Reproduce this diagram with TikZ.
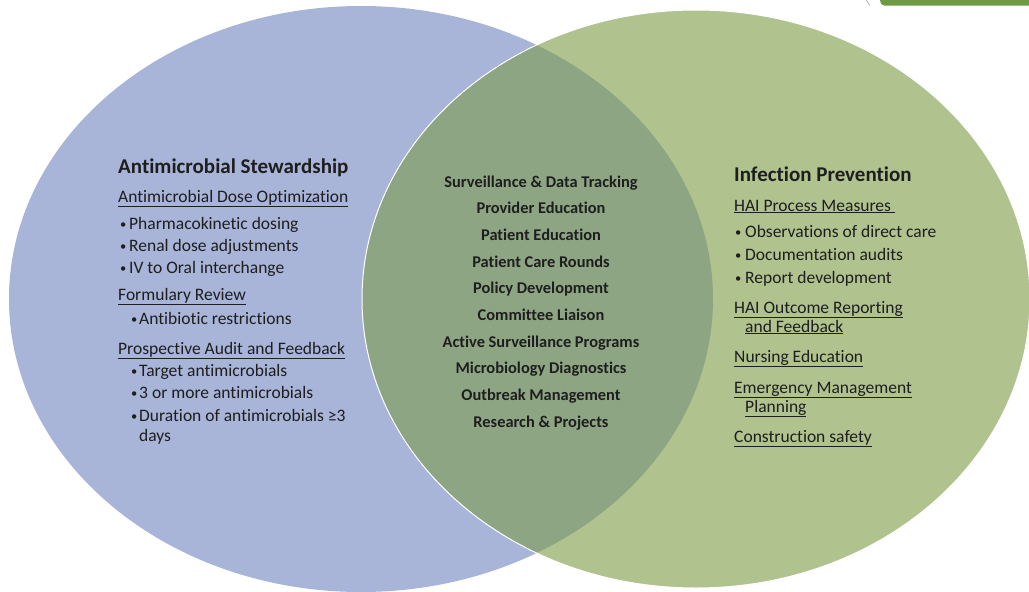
\documentclass[tikz,border=0pt]{standalone}
\usepackage{fontspec}
\setmainfont{Carlito}[Ligatures={NoCommon}]
\definecolor{amsblue}{HTML}{A8B4D8}
\definecolor{ipgreen}{HTML}{B0C28E}
\definecolor{ovgreen}{HTML}{8DA583}
\definecolor{bargreen}{HTML}{6F9A45}
\definecolor{txtdark}{HTML}{1E1E1E}
\newcommand\smbul{\raisebox{1pt}{\fontsize{12.5}{12}\selectfont\textbullet}}
\newcommand\lbul{\makebox[9pt][l]{\smbul}}
\newcommand\rbul{\makebox[10pt][l]{\smbul}}
\newcommand\kbul{\makebox[8pt][l]{\smbul}}
\begin{document}
\begin{tikzpicture}[x=1pt,y=-1pt,
  txt/.style={anchor=base west, inner sep=0pt, text=txtdark, font=\fontsize{17.5}{20}\selectfont},
  ttl/.style={txt, font=\fontsize{21}{24}\bfseries\selectfont},
  mid/.style={anchor=base, inner sep=0pt, text=txtdark, font=\fontsize{16.4}{19}\bfseries\selectfont}]
\useasboundingbox (0,0) rectangle (1029,592);
% circles
\fill[amsblue] (361,299) ellipse [x radius=352, y radius=293];
\fill[ipgreen] (696,299) ellipse [x radius=334, y radius=289];
\begin{scope}
  \clip (361,299) ellipse [x radius=352, y radius=293];
  \fill[ovgreen] (696,299) ellipse [x radius=334, y radius=289];
\end{scope}
\draw[white, line width=1pt] (696,299) ellipse [x radius=334, y radius=289];
% top-right fragment
\fill[bargreen] (880,0) -- (1029,0) -- (1029,5.5) -- (884,5.5) to[out=180,in=-90] (880,0) -- cycle;
\draw[black!35, line width=0.6pt] (866,0) .. controls (867.5,2.5) .. (870,5.5);
% left
\node[ttl] (asT) at (118,173) {Antimicrobial Stewardship};
\node[txt] (as1) at (118,202) {\underline{Antimicrobial Dose Optimization}};
\node[txt] (as1a) at (120,229) {\lbul Pharmacokinetic dosing};
\node[txt] (as1b) at (120,251) {\lbul Renal dose adjustments};
\node[txt] (as1c) at (120,273) {\lbul IV to Oral interchange};
\node[txt] (as2) at (118,300) {\underline{Formulary Review}};
\node[txt] (as2a) at (131,324) {\kbul Antibiotic restrictions};
\node[txt] (as3) at (118,354) {\underline{Prospective Audit and Feedback}};
\node[txt] (as3a) at (131,376) {\kbul Target antimicrobials};
\node[txt] (as3b) at (131,398) {\kbul 3 or more antimicrobials};
\node[txt] (as3c) at (131,421) {\kbul Duration of antimicrobials ≥3};
\node[txt] (as3d) at (139,441) {days};
% middle
\node[mid] (m1) at (541,187) {Surveillance \& Data Tracking};
\node[mid] (m2) at (541,213.7) {Provider Education};
\node[mid] (m3) at (541,240.4) {Patient Education};
\node[mid] (m4) at (541,267.1) {Patient Care Rounds};
\node[mid] (m5) at (541,293.8) {Policy Development};
\node[mid] (m6) at (541,320.5) {Committee Liaison};
\node[mid] (m7) at (541,347.2) {Active Surveillance Programs};
\node[mid] (m8) at (541,373.9) {Microbiology Diagnostics};
\node[mid] (m9) at (541,400.6) {Outbreak Management};
\node[mid] (m10) at (541,427.3) {Research \& Projects};
% right
\node[ttl] (ipT) at (734,181) {Infection Prevention};
\node[txt] (ip1) at (734,211) {\underline{HAI Process Measures\ }};
\node[txt] (ip1a) at (735,237) {\rbul Observations of direct care};
\node[txt] (ip1b) at (735,260) {\rbul Documentation audits};
\node[txt] (ip1c) at (735,283) {\rbul Report development};
\node[txt] (ip2) at (734,313) {\underline{HAI Outcome Reporting}};
\node[txt] (ip2b) at (745,332) {\underline{and Feedback}};
\node[txt] (ip3) at (734,362) {\underline{Nursing Education}};
\node[txt] (ip4) at (734,393) {\underline{Emergency Management}};
\node[txt] (ip4b) at (745,412) {\underline{Planning}};
\node[txt] (ip5) at (734,442) {\underline{Construction safety}};
\end{tikzpicture}
\end{document}
